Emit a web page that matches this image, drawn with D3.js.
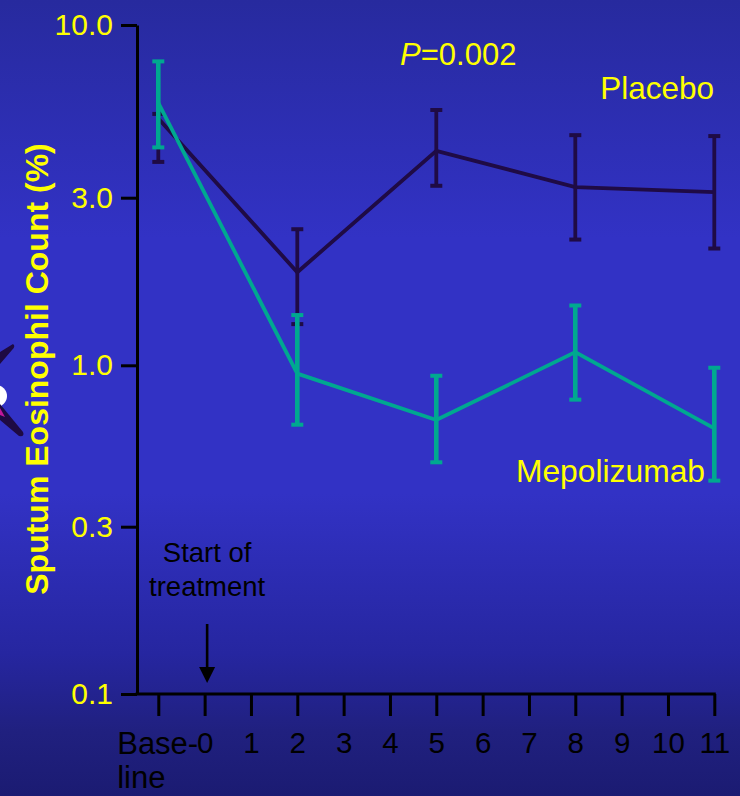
<!DOCTYPE html>
<html>
<head>
<meta charset="utf-8">
<script src="https://cdn.jsdelivr.net/npm/d3@7"></script>
<style>
	body { margin: 0; background: #1c1c76; }
	svg { display: block; font-family: "Liberation Sans", Arial, sans-serif; }
</style>
</head>
<body>
<div id="chart"></div>
<script>
// weeks on the x axis
var weeks = ["Base-line", "0", "1", "2", "3", "4", "5", "6", "7", "8", "9", "10", "11"];
var measured = ["Base-line", "2", "5", "8", "11"];
var yTicks = [0.1, 0.3, 1, 3, 10];

// placebo: geometric mean and error bar ends
var placeboMean = [5.21, 1.84, 4.16, 3.23, 3.12];
var placeboLo   = [3.85, 1.31, 3.26, 2.28, 2.15];
var placeboHi   = [5.38, 2.44, 5.53, 4.64, 4.61];

// mepolizumab
var mepoMean = [5.81, 0.94, 0.665, 1.09, 0.625];
var mepoLo   = [4.26, 0.642, 0.485, 0.774, 0.423];
var mepoHi   = [7.76, 1.39, 0.925, 1.48, 0.982];

var W = 740, H = 796;
var axisX = 137, axisBottom = 694;

var svg = d3.select("#chart")
	.append("svg")
	.attr("width", W)
	.attr("height", H);

var defs = svg.append("defs");
var grad = defs.append("linearGradient")
	.attr("id", "bg")
	.attr("x1", 0).attr("y1", 0).attr("x2", 0).attr("y2", 1);
[[0, "#272a9e"], [0.3, "#3232c5"], [0.62, "#3232c5"], [0.82, "#2626a0"], [0.92, "#20207f"], [1, "#1b1b72"]]
	.forEach(function(s) { grad.append("stop").attr("offset", s[0]).attr("stop-color", s[1]); });
svg.append("rect").attr("width", W).attr("height", H).attr("fill", "url(#bg)");

// bit of a logo cut off at the left edge
var logo = svg.append("g");
logo.append("path").attr("d", "M0,352 L13,344 Q16,346 12,350 L0,364 Z").attr("fill", "#1e0a42");
logo.append("circle").attr("cx", -4).attr("cy", 396).attr("r", 11).attr("fill", "#ffffff");
logo.append("path").attr("d", "M0,404 L23,432 Q25,437 19,436 L0,420 Z").attr("fill", "#1e0a42");
logo.append("path").attr("d", "M0,408 L5,417 L0,415 Z").attr("fill", "#c0189a");

var x = d3.scalePoint()
	.domain(weeks)
	.range([158.3, 714.3]);

var y = d3.scaleLog()
	.domain(yTicks)
	.range([694, 526.7, 365.3, 197.7, 25]);

// y axis
var gy = svg.append("g")
	.attr("transform", "translate(" + axisX + ",0)")
	.call(d3.axisLeft(y)
		.tickValues(yTicks)
		.tickFormat(d3.format(".1f"))
		.tickSize(16)
		.tickSizeOuter(0)
		.tickPadding(8));
gy.select(".domain").attr("stroke", "#000").attr("stroke-width", 3);
gy.selectAll(".tick line").attr("stroke", "#000").attr("stroke-width", 3);
gy.selectAll(".tick text")
	.attr("fill", "#ffff00")
	.style("font-size", "30px");

// x axis
var gx = svg.append("g")
	.attr("transform", "translate(0," + axisBottom + ")")
	.call(d3.axisBottom(x)
		.tickSize(22)
		.tickSizeOuter(0)
		.tickPadding(16));
gx.select(".domain").remove();
gx.append("line")
	.attr("x1", axisX - 1.5).attr("x2", x("11") + 1.5)
	.attr("stroke", "#000").attr("stroke-width", 3);
gx.selectAll(".tick line").attr("stroke", "#000").attr("stroke-width", 3);
gx.selectAll(".tick text")
	.attr("fill", "#000")
	.style("font-size", "29.5px");
gx.selectAll(".tick text")
	.filter(function(d) { return d == "Base-line"; })
	.text(null)
	.attr("text-anchor", "start")
	.attr("x", -41.6)
	.style("font-size", "31px")
	.each(function() {
		var t = d3.select(this);
		t.append("tspan").attr("x", -41.6).text("Base-");
		t.append("tspan").attr("x", -41.6).attr("dy", "1.1em").text("line");
	});

// y title
svg.append("text")
	.attr("transform", "translate(48,369) rotate(-90)")
	.attr("text-anchor", "middle")
	.attr("fill", "#ffff00")
	.style("font-size", "32px")
	.style("font-weight", "bold")
	.text("Sputum Eosinophil Count (%)");

function drawSeries(mean, lo, hi, color, barW) {
	var g = svg.append("g");
	var pts = measured.map(function(w, i) { return { w: w, m: mean[i], lo: lo[i], hi: hi[i] }; });
	g.append("path")
		.datum(pts)
		.attr("fill", "none")
		.attr("stroke", color)
		.attr("stroke-width", 3.8)
		.attr("d", d3.line()
			.x(function(d) { return x(d.w); })
			.y(function(d) { return y(d.m); }));
	var bars = g.selectAll(".err")
		.data(pts)
		.enter()
		.append("g");
	bars.append("line")
		.attr("x1", function(d) { return x(d.w); })
		.attr("x2", function(d) { return x(d.w); })
		.attr("y1", function(d) { return y(d.lo); })
		.attr("y2", function(d) { return y(d.hi); })
		.attr("stroke", color)
		.attr("stroke-width", barW);
	["lo", "hi"].forEach(function(k) {
		bars.append("line")
			.attr("x1", function(d) { return x(d.w) - 6; })
			.attr("x2", function(d) { return x(d.w) + 6; })
			.attr("y1", function(d) { return y(d[k]); })
			.attr("y2", function(d) { return y(d[k]); })
			.attr("stroke", color)
			.attr("stroke-width", 4);
	});
}

drawSeries(placeboMean, placeboLo, placeboHi, "#1f0b45", 3.8);
drawSeries(mepoMean, mepoLo, mepoHi, "#00a890", 4.6);

// annotations
var p = svg.append("text")
	.attr("x", 400).attr("y", 65)
	.attr("fill", "#ffff00")
	.style("font-size", "31px");
p.append("tspan").style("font-style", "italic").text("P");
p.append("tspan").text("=0.002");

svg.append("text")
	.attr("x", 714).attr("y", 99)
	.attr("text-anchor", "end")
	.attr("fill", "#ffff00")
	.style("font-size", "31.5px")
	.text("Placebo");

svg.append("text")
	.attr("x", 705).attr("y", 482)
	.attr("text-anchor", "end")
	.attr("fill", "#ffff00")
	.style("font-size", "31.8px")
	.text("Mepolizumab");

var ax = x("0") + 2.5;
var note = svg.append("text")
	.attr("text-anchor", "middle")
	.attr("fill", "#000")
	.style("font-size", "27.5px");
note.append("tspan").attr("x", ax).attr("y", 562).text("Start of");
note.append("tspan").attr("x", ax).attr("y", 596).text("treatment");

svg.append("line")
	.attr("x1", ax).attr("x2", ax)
	.attr("y1", 624).attr("y2", 670)
	.attr("stroke", "#000").attr("stroke-width", 2.6);
svg.append("path")
	.attr("d", "M" + (ax - 8) + ",667 L" + (ax + 8) + ",667 L" + ax + ",683 Z")
	.attr("fill", "#000");
</script>
</body>
</html>
